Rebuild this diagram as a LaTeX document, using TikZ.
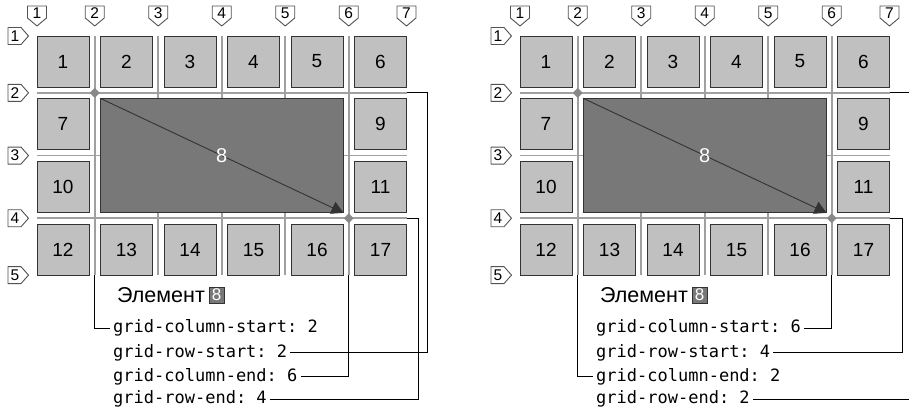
\documentclass[tikz,border=0pt]{standalone}
\usepackage{fontspec}
\setmainfont{Liberation Sans}
\setmonofont{DejaVu Sans Mono}
\definecolor{cellGray}{HTML}{C0C0C0}
\definecolor{itemGray}{HTML}{787878}
\definecolor{lineGray}{HTML}{A0A0A0}
\definecolor{edgeDark}{HTML}{333333}
\usetikzlibrary{shapes.geometric, arrows.meta, positioning}

\begin{document}
\begin{tikzpicture}[
        x=1pt, y=-1pt,
        cell/.style={rectangle, draw=edgeDark, fill=cellGray, line width=1pt, inner sep=0pt,
                     minimum width=52pt, minimum height=51pt, font=\fontsize{19}{21}\selectfont},
        item/.style={rectangle, draw=edgeDark, fill=itemGray, line width=1pt, inner sep=0pt,
                     minimum width=242.5pt, minimum height=113.7pt},
        gridline/.style={draw=lineGray, line width=1.6pt},
        markline/.style={draw=edgeDark!85, fill=white, line width=0.9pt, line join=round},
        marknum/.style={inner sep=0pt, font=\fontsize{15.5}{16}\selectfont},
        crossing/.style={diamond, fill=lineGray!85!black, minimum size=10pt, inner sep=0pt},
        tag/.style={rectangle, draw=edgeDark, fill=itemGray, text=white, inner sep=0pt,
                    minimum width=15.5pt, minimum height=16.5pt, font=\fontsize{17}{17}\selectfont},
        code/.style={anchor=west, inner sep=3pt, font=\ttfamily\fontsize{17}{20}\selectfont},
        link/.style={draw=black, line width=0.9pt}
      ]
        \path[use as bounding box, clip] (0,0) rectangle (909,415);
        % two copies of the same grid
        \foreach \p/\dx in {L/0, R/483} {
          \begin{scope}[xshift=\dx]
            \foreach \x in {94.75, 158.25, 221.75, 285.25, 348.75}
              \draw[gridline] (\x,36) -- (\x,275.1);
            \foreach \y in {92.85, 155.55, 218.25}
              \draw[gridline] (37,\y) -- (406.5,\y);
            \foreach \n/\c/\r in {1/1/1, 2/2/1, 3/3/1, 4/4/1, 5/5/1, 6/6/1, 7/1/2, 9/6/2,
                                  10/1/3, 11/6/3, 12/1/4, 13/2/4, 14/3/4, 15/4/4, 16/5/4, 17/6/4}
              \node[cell] (\p-\n) at ({63+(\c-1)*63.5}, {61.5+(\r-1)*62.7}) {\n};
            \node[item] (\p-8) at (221.75,155.55) {};
            \draw[draw=edgeDark, line width=0.9pt, -{Triangle[length=12pt, width=13pt]}]
              (\p-8.north west) -- (\p-8.south east);
            \node[text=white, font=\fontsize{20}{22}\selectfont] (\p-8l) at (\p-8.center) {8};
            \node[crossing] (\p-x1) at (94.75,92.85) {};
            \node[crossing] (\p-x2) at (348.75,218.25) {};
            % line numbers
            \foreach \k/\x in {1/37, 2/94.75, 3/158.25, 4/221.75, 5/285.25, 6/348.75, 7/406.5} {
              \draw[markline] (\x-9.5,6) -- (\x+9.5,6) -- (\x+9.5,18) -- (\x,26) -- (\x-9.5,18) -- cycle;
              \node[marknum] (\p-m\k) at (\x,13.2) {\k};
            }
            \foreach \k/\y in {1/36, 2/92.85, 3/155.55, 4/218.25, 5/275.1} {
              \draw[markline] (8,\y-8.5) -- (21,\y-8.5) -- (28.5,\y) -- (21,\y+8.5) -- (8,\y+8.5) -- cycle;
              \node[marknum] (\p-n\k) at (15,\y) {\k};
            }
            \coordinate (\p-c2b) at (94.75,275.1);
            \coordinate (\p-c6b) at (348.75,275.1);
            \coordinate (\p-r2e) at (406.5,92.85);
            \coordinate (\p-r4e) at (406.5,218.25);
            \node[anchor=west, inner sep=0pt, font=\fontsize{21.5}{23}\selectfont] (\p-lbl) at (117,295) {Элемент};
            \node[tag, right=3.5pt of \p-lbl] (\p-tag) {8};
          \end{scope}
        }
        % left: 2 / 2 / 6 / 4
        \node[code] (L-cs) at (110,328) {grid-column-start: 2};
        \node[code] (L-rs) at (110,352.5) {grid-row-start: 2};
        \node[code] (L-ce) at (110,376.5) {grid-column-end: 6};
        \node[code] (L-re) at (110,399) {grid-row-end: 4};
        \draw[link] (L-c2b) |- (L-cs.west);
        \draw[link] (L-r2e) -- ++(21,0) |- (L-rs.east);
        \draw[link] (L-c6b) |- (L-ce.east);
        \draw[link] (L-r4e) -- ++(12,0) |- (L-re.east);
        % right: 6 / 4 / 2 / 2
        \node[code] (R-cs) at (593,328) {grid-column-start: 6\ };
        \node[code] (R-rs) at (593,352.5) {grid-row-start: 4};
        \node[code] (R-ce) at (593,376.5) {grid-column-end: 2};
        \node[code] (R-re) at (593,399) {grid-row-end: 2};
        \draw[link] (R-c6b) |- (R-cs.east);
        \draw[link] (R-r4e) -- ++(13,0) |- (R-rs.east);
        \draw[link] (R-c2b) |- (R-ce.west);
        \draw[link] (R-r2e) -- ++(22,0) |- (R-re.east);
      \end{tikzpicture}
\end{document}
